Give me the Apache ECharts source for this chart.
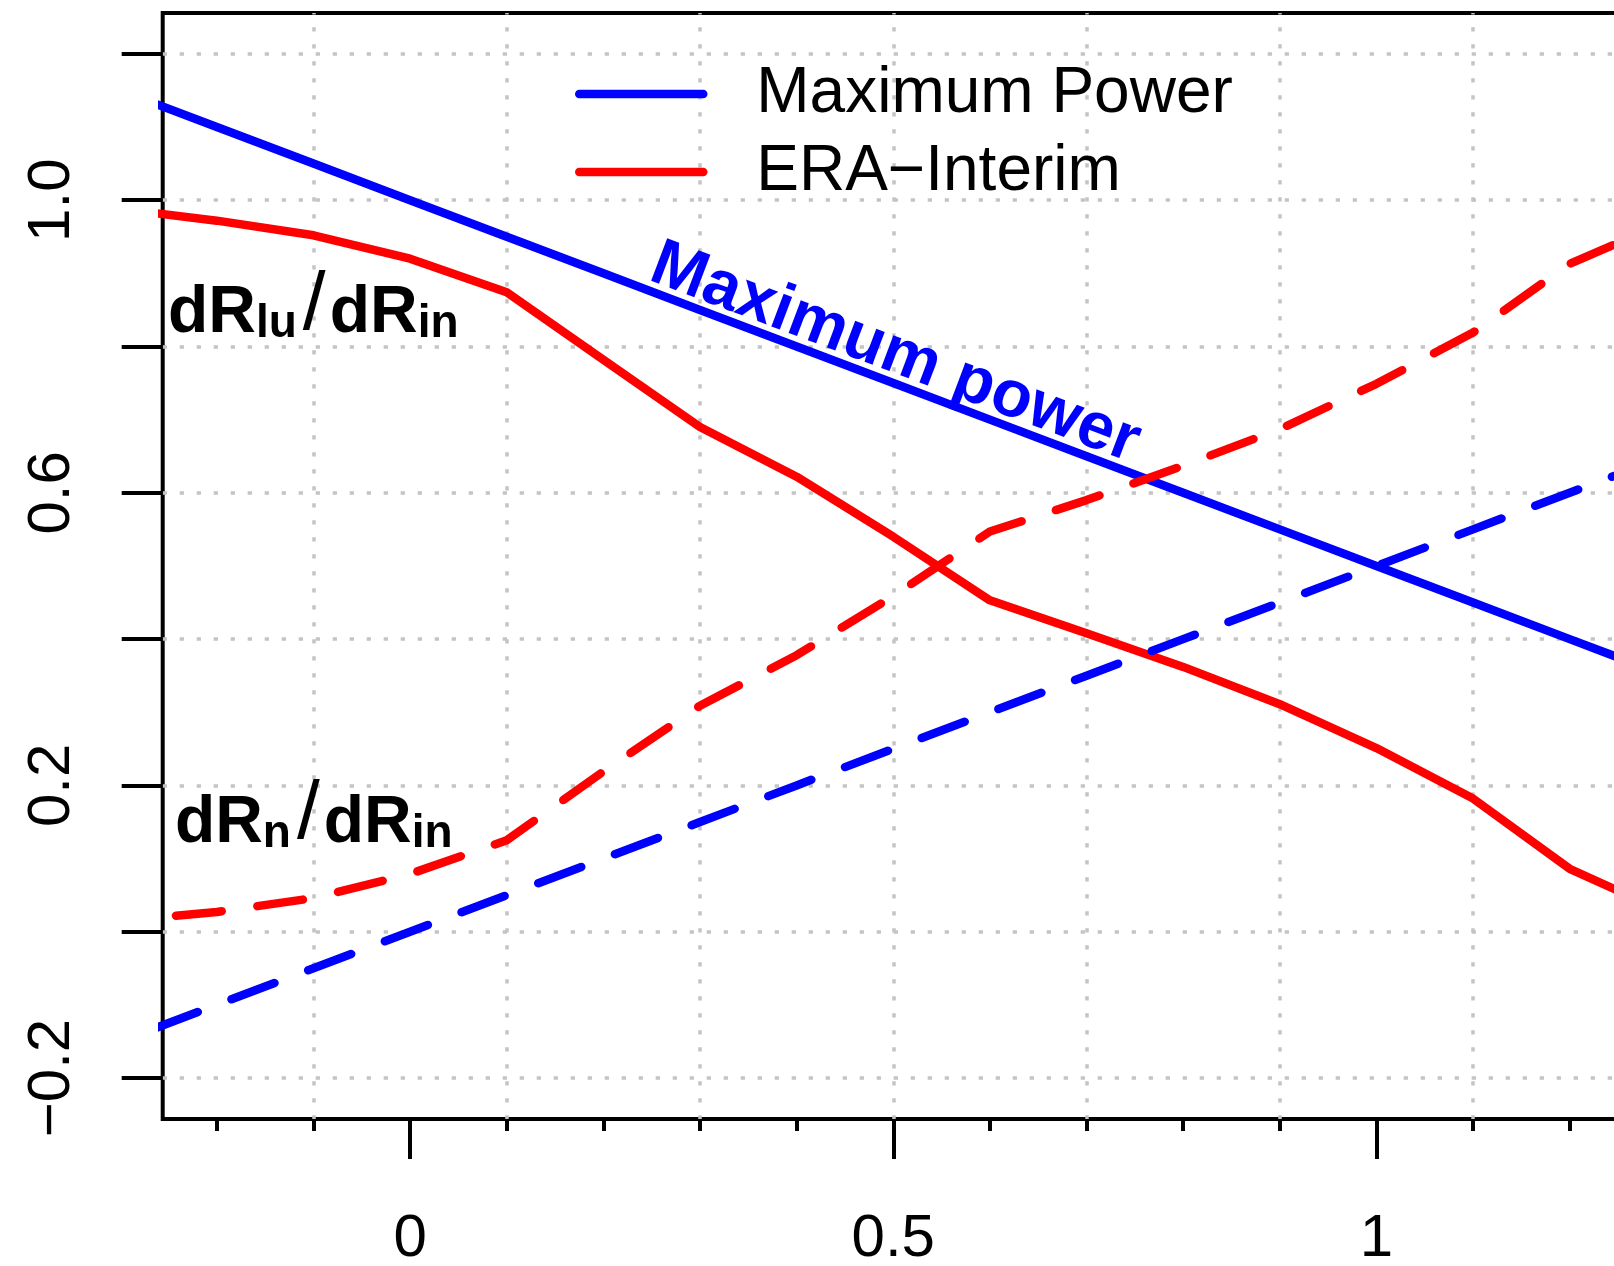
<!DOCTYPE html>
<html><head><meta charset="utf-8">
<script src="https://cdn.jsdelivr.net/npm/echarts@6/dist/echarts.min.js"></script>
<style>html,body{margin:0;padding:0;background:#fff}#c{width:1614px;height:1266px}</style>
</head><body><div id="c"></div>
<script>
// ---- data ----
const xValues   = [-0.3,-0.2,-0.1,0,0.1,0.2,0.3,0.4,0.5,0.6,0.7,0.8,0.9,1.0,1.1,1.2,1.3];
const mpLatent  = [1.15,1.10,1.05,1.00,0.95,0.90,0.85,0.80,0.75,0.70,0.65,0.60,0.55,0.50,0.45,0.40,0.35];
const mpNet     = [-0.15,-0.10,-0.05,0.00,0.05,0.10,0.15,0.20,0.25,0.30,0.35,0.40,0.45,0.50,0.55,0.60,0.65];
const eraLatent = [0.988,0.972,0.952,0.920,0.874,0.782,0.690,0.622,0.540,0.453,0.408,0.362,0.311,0.251,0.182,0.086,0.026];
const eraNet    = [0.015,0.027,0.046,0.079,0.125,0.219,0.309,0.378,0.459,0.547,0.590,0.637,0.687,0.749,0.819,0.913,0.970];
const xMajorTicks = [0, 0.5, 1];
const xMinorTicks = [-0.2,-0.1,0,0.1,0.2,0.3,0.4,0.5,0.6,0.7,0.8,0.9,1.0,1.1,1.2];
const xGridLines  = [-0.1,0.1,0.3,0.5,0.7,0.9,1.1];
const yTicks      = [-0.2,0,0.2,0.4,0.6,0.8,1.0,1.2];
const yTickLabels = [-0.2,0.2,0.6,1.0];
const legendNames = ['Maximum Power', 'ERA\u2212Interim'];
const annoMaxPower = {text:'Maximum power', x:0.502, y:0.790};
const annoLatent = {x:-0.2505, y:0.7993};
const annoNet = {x:-0.2434, y:0.1024};

const FONT = "'Liberation Sans', Arial, Helvetica, sans-serif";
const XMIN = -0.256, XMAX = 1.256, YMIN = -0.256, YMAX = 1.256;
const LW = 8.5;
const pairs = ys => xValues.map((x,i)=>[x, ys[i]]);
const dotted = {color:'#c4c4c4', width:3.5, type:[4.25,12.75], cap:'butt'};

const chart = echarts.init(document.getElementById('c'), null, {renderer:'canvas'});
const baseX = {type:'value', min:XMIN, max:XMAX, position:'bottom', axisLine:{show:false, onZero:false}, splitLine:{show:false}};
chart.setOption({
  animation:false,
  backgroundColor:'#fff',
  grid:{left:162.7, width:1461.1, top:12.9, bottom:147, outerBoundsMode:'none', containLabel:false,
    show:true, borderColor:'#000', borderWidth:4, backgroundColor:'transparent'},
  xAxis:[
    Object.assign({}, baseX, {
      axisTick:{show:true, customValues:xMajorTicks, length:40, lineStyle:{color:'#000', width:4}},
      axisLabel:{show:true, customValues:xMajorTicks, margin:90, fontSize:60, fontFamily:FONT, color:'#000', formatter:v=>String(v)}
    }),
    Object.assign({}, baseX, {
      axisTick:{show:true, customValues:xMinorTicks, length:12, lineStyle:{color:'#000', width:4}},
      axisLabel:{show:false}
    }),
    Object.assign({}, baseX, {
      axisTick:{show:false, customValues:xGridLines},
      axisLabel:{show:false},
      splitLine:{show:true, lineStyle:Object.assign({}, dotted, {dashOffset:2.6})}
    })
  ],
  yAxis:{type:'value', min:YMIN, max:YMAX, position:'left', axisLine:{show:false, onZero:false},
    axisTick:{show:true, customValues:yTicks, length:41, lineStyle:{color:'#000', width:4}},
    axisLabel:{show:true, customValues:yTickLabels, rotate:90, margin:80, fontSize:60, fontFamily:FONT, color:'#000',
      formatter:v=>(v<0?'\u2212':'')+Math.abs(v).toFixed(1)},
    splitLine:{show:true, lineStyle:dotted}
  },
  legend:{orient:'vertical', left:575, top:55, padding:0, itemGap:0, itemWidth:124, itemHeight:78,
    data:legendNames, selectedMode:false,
    lineStyle:{width:LW, cap:'round'},
    itemStyle:{opacity:0},
    textStyle:{fontSize:64, fontFamily:FONT, color:'#000', lineHeight:78, padding:[0,0,0,48]}
  },
  series:[
    {name:legendNames[0], type:'line', data:pairs(mpLatent), showSymbol:false, symbol:'none', xAxisIndex:0,
      lineStyle:{color:'#0000ff', width:LW, cap:'round', join:'round'}, itemStyle:{color:'#0000ff'}},
    {name:legendNames[1], type:'line', data:pairs(eraLatent), showSymbol:false, symbol:'none', xAxisIndex:0,
      lineStyle:{color:'#ff0000', width:LW, cap:'round', join:'round'}, itemStyle:{color:'#ff0000'}},
    {name:legendNames[0], type:'line', data:pairs(mpNet), showSymbol:false, symbol:'none', xAxisIndex:0,
      lineStyle:{color:'#0000ff', width:LW, cap:'round', join:'round', type:[46,36], dashOffset:45}, itemStyle:{color:'#0000ff'}},
    {name:legendNames[1], type:'line', data:pairs(eraNet), showSymbol:false, symbol:'none', xAxisIndex:0,
      lineStyle:{color:'#ff0000', width:LW, cap:'round', join:'round', type:[46,36], dashOffset:26}, itemStyle:{color:'#ff0000'}}
  ]
});

const px = p => chart.convertToPixel({xAxisIndex:0, yAxisIndex:0}, p);
const a1 = px([0, mpLatent[3]]), a2 = px([1, mpLatent[13]]);
const ang = Math.atan2(a2[1]-a1[1], a2[0]-a1[0]);
const mp = px([annoMaxPower.x, annoMaxPower.y]);
const lp = px([annoLatent.x, annoLatent.y]);
const np = px([annoNet.x, annoNet.y]);
const rich = {
  m:{fontSize:66, fontWeight:'bold', fontFamily:FONT, lineHeight:72, verticalAlign:'bottom', fill:'#000'},
  s:{fontSize:46, fontWeight:'bold', fontFamily:FONT, lineHeight:38, verticalAlign:'bottom', fill:'#000'},
  sl:{fontSize:82, fontWeight:'normal', fontFamily:FONT, lineHeight:72, verticalAlign:'bottom', fill:'#000', padding:[0,4,0,6]}
};
chart.setOption({graphic:{elements:[
  {type:'text', x:mp[0], y:mp[1], rotation:-ang, z:100,
    style:{text:annoMaxPower.text, fontSize:66, fontWeight:'bold', fontFamily:FONT, fill:'#0000ff', align:'center', verticalAlign:'middle'}},
  {type:'text', x:lp[0], y:lp[1], z:100,
    style:{text:'{m|dR}{s|lu}{sl|/}{m|dR}{s|in}', rich:rich, align:'left', verticalAlign:'bottom', fontFamily:FONT}},
  {type:'text', x:np[0], y:np[1], z:100,
    style:{text:'{m|dR}{s|n}{sl|/}{m|dR}{s|in}', rich:rich, align:'left', verticalAlign:'bottom', fontFamily:FONT}}
]}});
</script></body></html>
